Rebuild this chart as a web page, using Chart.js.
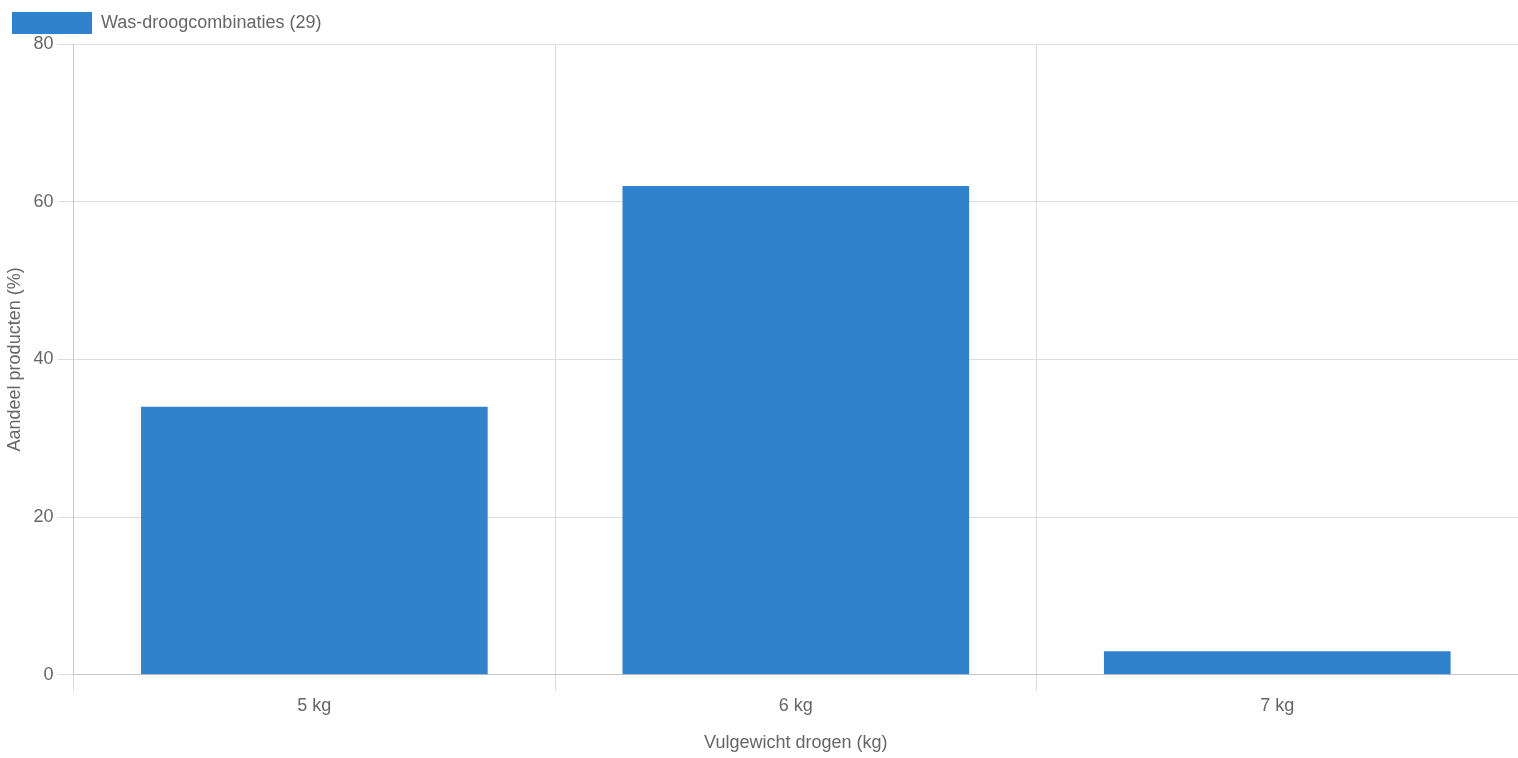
<!DOCTYPE html>
<html><head><meta charset="utf-8">
<script src="https://cdn.jsdelivr.net/npm/chart.js@4"></script>
<style>html,body{margin:0;padding:0;background:#fff}#wrap{width:1518px;height:758px}</style>
</head><body><div id="wrap"><canvas id="c"></canvas></div>
<script>
const categories = ["5 kg", "6 kg", "7 kg"];
const seriesLabel = "Was-droogcombinaties (29)";
const values = [34, 62, 3];
const yTicks = [0, 20, 40, 60, 80];

Chart.defaults.font.family = "'Liberation Sans', Arial, Helvetica, sans-serif";
Chart.defaults.color = "#666";
new Chart(document.getElementById('c'), {
  type: 'bar',
  data: { labels: categories, datasets: [{ label: seriesLabel, data: values, backgroundColor: '#3182CC', borderWidth: 0, categoryPercentage: 0.8, barPercentage: 0.9 }] },
  options: {
    responsive: true, maintainAspectRatio: false, animation: false,
    layout: { padding: { right: 0, top: 0 } },
    plugins: {
      legend: { align: 'start', labels: { boxWidth: 80, boxHeight: 22, font: { size: 18 }, padding: 12 } },
      tooltip: { enabled: false }
    },
    scales: {
      x: { grid: { offset: true, color: '#ddd', tickLength: 16 }, ticks: { font: { size: 18 }, padding: 4 },
           title: { display: true, text: 'Vulgewicht drogen (kg)', font: { size: 18 }, padding: { top: 12 } } },
      y: { min: 0, max: 80, afterBuildTicks: s => { s.ticks = yTicks.map(v => ({ value: v })); },
           grid: { color: '#ddd', tickLength: 16 }, ticks: { font: { size: 18 }, padding: 4 },
           title: { display: true, text: 'Aandeel producten (%)', font: { size: 18 } } }
    }
  }
});
</script></body></html>
